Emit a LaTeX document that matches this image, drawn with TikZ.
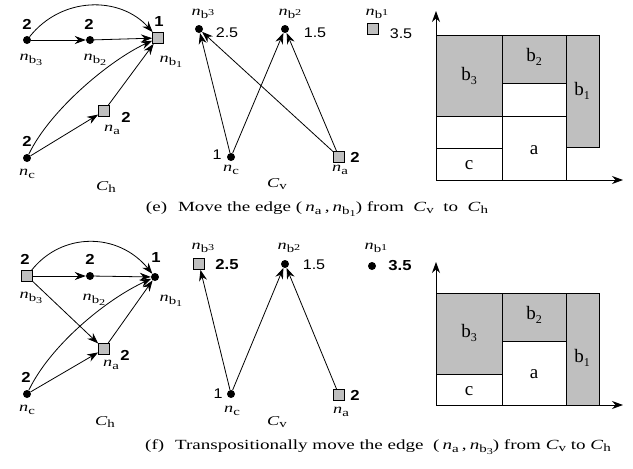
\documentclass[tikz,border=0pt]{standalone}
\usepackage{fontspec}
\setmainfont{Liberation Serif}
\newfontfamily\numfont{Liberation Sans}
\usetikzlibrary{arrows.meta}
% n with subscript letter and optional digit
\newcommand{\nsb}[2]{\textit{n}\raisebox{-0.45ex}{\fontsize{11}{11}\selectfont #1\raisebox{-0.35ex}{\fontsize{9}{9}\selectfont #2}}}
\newcommand{\nsv}[2]{\textit{n}\raisebox{-0.45ex}{\fontsize{11}{11}\selectfont #1\raisebox{0.5ex}{\fontsize{9}{9}\selectfont #2}}}
\newcommand{\cs}[1]{\textit{C}\raisebox{-0.35ex}{\fontsize{11}{11}\selectfont #1}}
\newcommand{\bs}[1]{b\raisebox{-0.4ex}{\fontsize{12}{12}\selectfont #1}}
\tikzset{
  dotn/.style={circle, fill=black, inner sep=0pt, minimum size=8pt},
  sqn/.style={rectangle, draw=black, fill=gray!50, inner sep=0pt, minimum size=11pt, line width=0.8pt},
  lbl/.style={font=\fontsize{13.5}{16}\selectfont, inner sep=0pt, xscale=1.35, transform shape},
  flbl/.style={font=\fontsize{19}{22}\selectfont, inner sep=0pt},
  num/.style={font=\fontsize{14.5}{16}\selectfont\numfont\bfseries, inner sep=0pt, xscale=1.15, transform shape},
  dec/.style={font=\fontsize{14}{16}\selectfont\numfont, inner sep=0pt, xscale=1.15, transform shape},
  arr/.style={-{Stealth[length=11pt,width=8pt]}, line width=0.8pt},
  axis/.style={-{Stealth[length=11pt,width=8pt]}, line width=0.8pt},
  room/.style={draw=black, line width=0.8pt},
  groom/.style={draw=black, fill=gray!50, line width=0.8pt},
  captxt/.style={font=\fontsize{14}{17}\selectfont, inner sep=0pt, xscale=1.36, transform shape},
}
\begin{document}
\begin{tikzpicture}[x=1pt,y=-1pt]
\useasboundingbox (0,0) rectangle (633,469);
% ================= (e) =================
% Ch
\node[dotn] (eb3) at (27,40) {};
\node[dotn] (eb2) at (90,40) {};
\node[sqn] (eb1) at (158,38) {};
\node[sqn] (ea) at (104,111) {};
\node[dotn] (ec) at (27,158) {};
\node[num] (eb3n) at (27,24) {2};
\node[num] (eb2n) at (89,24) {2};
\node[num] (eb1n) at (159,22) {1};
\node[num] (ean) at (126,117) {2};
\node[num] (ecn) at (27,141) {2};
\node[lbl] (eb3l) at (31,60) {\nsb{b}{3}};
\node[lbl] (eb2l) at (95,60) {\nsb{b}{2}};
\node[lbl] (eb1l) at (171,62) {\nsb{b}{1}};
\node[lbl] (eal) at (112,131) {\nsb{a}{}};
\node[lbl] (ecl) at (27,175) {\nsb{c}{}};
\node[lbl] (ech) at (106,187) {\cs{h}};
\draw[arr] (eb3) -- (eb2);
\draw[arr] (eb2) -- (eb1);
\draw[arr] (eb3) .. controls (62,-4) and (120,-4) .. (eb1);
\draw[arr] (ec) .. controls (50,110) and (110,60) .. (eb1);
\draw[arr] (ec) -- (ea);
\draw[arr] (ea) -- (eb1);
% Cv
\node[dotn] (vb3) at (199,29) {};
\node[dotn] (vb2) at (285,29) {};
\node[sqn] (vb1) at (373,29) {};
\node[dotn] (vc) at (231,157) {};
\node[sqn] (va) at (339,157) {};
\node[lbl] (vb3l) at (203,14) {\nsv{b}{3}};
\node[lbl] (vb2l) at (290,14) {\nsv{b}{2}};
\node[lbl] (vb1l) at (377,14) {\nsv{b}{1}};
\node[dec] (vb3n) at (227,33) {2.5};
\node[dec] (vb2n) at (315,33) {1.5};
\node[dec] (vb1n) at (401,34) {3.5};
\node[dec] (vcn) at (217,155) {1};
\node[num] (van) at (355,157) {2};
\node[lbl] (vcl) at (231,171) {\nsb{c}{}};
\node[lbl] (val) at (340,171) {\nsb{a}{}};
\node[lbl] (ecv) at (277,184) {\cs{v}};
\draw[arr] (vc) -- (vb3);
\draw[arr] (vc) -- (vb2);
\draw[arr] (va) -- (vb3);
\draw[arr] (va) -- (vb2);
% floorplan
\draw[groom] (436,35) rectangle (502,116);
\draw[room] (436,116) rectangle (502,148);
\draw[room] (436,148) rectangle (502,180);
\draw[groom] (502,35) rectangle (566,83);
\draw[room] (502,83) rectangle (566,116);
\draw[room] (502,116) rectangle (566,180);
\draw[groom] (566,35) rectangle (599,147);
\coordinate (eo) at (436,180);
\coordinate (ey) at (436,11);
\coordinate (ex) at (623,180);
\draw[axis] (eo) -- (ey);
\draw[axis] (eo) -- (ex);
\node[flbl] (frb3) at (469,76) {\bs{3}};
\node[flbl] (frb2) at (534,57) {\bs{2}};
\node[flbl] (frb1) at (582,91) {\bs{1}};
\node[flbl] (fra) at (534,150) {a};
\node[flbl] (frc) at (469,165) {c};
\node[captxt] (capE) at (317,209) {(e)\hspace{8pt}Move the edge (\,\nsb{a}{}\,,\,\nsb{b}{1}) from \ \cs{v} \ to \ \cs{h}};
% ================= (f) =================
% Ch
\node[sqn] (fb3) at (27,276) {};
\node[dotn] (fb2) at (90,276) {};
\node[dotn] (fb1) at (155,277) {};
\node[sqn] (fa) at (104,349) {};
\node[dotn] (fc) at (27,394) {};
\node[num] (fb3n) at (25,259) {2};
\node[num] (fb2n) at (90,259) {2};
\node[num] (fb1n) at (156,258) {1};
\node[num] (fan) at (125,355) {2};
\node[num] (fcn) at (26,377) {2};
\node[lbl] (fb3l) at (31,298) {\nsb{b}{3}};
\node[lbl] (fb2l) at (94,300) {\nsb{b}{2}};
\node[lbl] (fb1l) at (171,301) {\nsb{b}{1}};
\node[lbl] (fal) at (111,366) {\nsb{a}{}};
\node[lbl] (fcl) at (27,411) {\nsb{c}{}};
\node[lbl] (fch) at (105,422) {\cs{h}};
\draw[arr] (fb3) -- (fb2);
\draw[arr] (fb2) -- (fb1);
\draw[arr] (fb3) .. controls (62,232) and (118,232) .. (fb1);
\draw[arr] (fc) .. controls (50,346) and (105,300) .. (fb1);
\draw[arr] (fc) -- (fa);
\draw[arr] (fa) -- (fb1);
\draw[arr] (fb3) -- (fa);
% Cv
\node[sqn] (gb3) at (199,264) {};
\node[dotn] (gb2) at (285,264) {};
\node[dotn] (gb1) at (372,266) {};
\node[dotn] (gc) at (231,394) {};
\node[sqn] (ga) at (339,395) {};
\node[lbl] (gb3l) at (203,248) {\nsv{b}{3}};
\node[lbl] (gb2l) at (289,248) {\nsv{b}{2}};
\node[lbl] (gb1l) at (376,248) {\nsv{b}{1}};
\node[num] (gb3n) at (227,265) {2.5};
\node[dec] (gb2n) at (314,265) {1.5};
\node[num] (gb1n) at (400,266) {3.5};
\node[dec] (gcn) at (218,394) {1};
\node[num] (gan) at (355,395) {2};
\node[lbl] (gcl) at (232,412) {\nsb{c}{}};
\node[lbl] (gal) at (341,413) {\nsb{a}{}};
\node[lbl] (fcv) at (277,422) {\cs{v}};
\draw[arr] (gc) -- (gb3);
\draw[arr] (gc) -- (gb2);
\draw[arr] (ga) -- (gb2);
% floorplan
\draw[groom] (436,293) rectangle (502,374);
\draw[room] (436,374) rectangle (502,405);
\draw[groom] (502,293) rectangle (566,341);
\draw[room] (502,341) rectangle (566,405);
\draw[groom] (566,293) rectangle (599,405);
\coordinate (fo) at (436,405);
\coordinate (fy) at (436,262);
\coordinate (fx) at (623,405);
\draw[axis] (fo) -- (fy);
\draw[axis] (fo) -- (fx);
\node[flbl] (grb3) at (469,333) {\bs{3}};
\node[flbl] (grb2) at (534,315) {\bs{2}};
\node[flbl] (grb1) at (582,358) {\bs{1}};
\node[flbl] (gra) at (534,374) {a};
\node[flbl] (grc) at (469,391) {c};
\node[captxt] (capF) at (378,447) {(f)\hspace{8pt}Transpositionally move the edge \ (\,\nsb{a}{}\,,\,\nsb{b}{3}) from \cs{v} to \cs{h}};
\end{tikzpicture}
\end{document}
